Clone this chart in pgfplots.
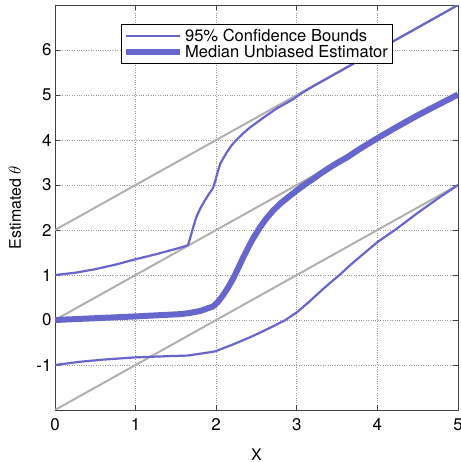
\documentclass[border=0pt]{standalone}
\usepackage{fontspec}
\setmainfont{TeX Gyre Heros}
\usepackage{pgfplots}
\pgfplotsset{compat=1.18}
\definecolor{bl}{RGB}{102,102,204}
\definecolor{gl}{RGB}{176,176,176}
\begin{document}
\begin{tikzpicture}
\begin{axis}[
  scale only axis, width=403bp, height=405bp,
  xmin=0, xmax=5, ymin=-2, ymax=7,
  xtick={0,1,2,3,4,5}, ytick={-1,0,1,2,3,4,5,6},
  /pgf/number format/assume math mode=true,
  grid=major, grid style={dotted, gray!80, line width=1pt},
  axis line style={gray!50!black, line width=0.8pt},
  tick style={gray!50!black, line width=0.8pt}, major tick length=5bp, tick align=inside,
  ticklabel style={font=\fontsize{17}{20}\selectfont},
  xticklabel style={yshift=-5bp},
  label style={font=\fontsize{16}{19}\selectfont},
  xlabel={X}, ylabel={Estimated $\theta$},
  xlabel style={at={(axis description cs:0.5,0)}, anchor=base, yshift=-50bp},
  ylabel style={at={([xshift=-40bp]axis description cs:0,0.5)}, anchor=center},
  legend style={at={(0.5,0.952)}, anchor=north, draw=black, line width=0.6pt, fill=white,
    font=\fontsize{16.6}{20}\selectfont, cells={anchor=west}, row sep=-1pt, inner sep=2pt},
  legend image code/.code={\draw[#1] (0bp,0bp) -- (54bp,0bp);},
]
\addplot[gl, line width=2bp, forget plot] coordinates {(0,2) (5,7)};
\addplot[gl, line width=2bp, forget plot] coordinates {(0,0) (5,5)};
\addplot[gl, line width=2bp, forget plot] coordinates {(0,-2) (5,3)};
\addplot[bl, line width=2.2bp, line join=round] coordinates {
(0,1) (0.25,1.05) (0.5,1.13) (0.75,1.23) (1,1.35) (1.25,1.46) (1.5,1.58) (1.65,1.66)
(1.68,1.84) (1.71,2.03) (1.75,2.27) (1.8,2.47) (1.857,2.65) (1.91,2.8) (1.96,2.93)
(1.99,3.1) (2.02,3.3) (2.05,3.47) (2.09,3.6) (2.13,3.72) (2.19,3.88) (2.25,4.0) (2.33,4.14)
(2.42,4.28) (2.52,4.41) (2.62,4.54) (2.75,4.7) (2.85,4.8) (2.95,4.9) (3.05,5.03)
(3.2,5.19) (5,7)};
\addlegendentry{95\% Confidence Bounds}
\addplot[bl, line width=6bp, line join=round] coordinates {
(0,0) (0.5,0.04) (1,0.08) (1.55,0.13) (1.65,0.15) (1.8,0.2) (1.96,0.30) (2.02,0.4)
(2.085,0.55) (2.15,0.73) (2.21,0.92) (2.27,1.14) (2.33,1.37) (2.4,1.62) (2.457,1.81)
(2.54,2.05) (2.62,2.25) (2.7,2.42) (2.79,2.58) (2.9,2.74) (3.0,2.88) (3.1,3.01)
(3.2,3.13) (3.3,3.26) (3.41,3.39) (3.52,3.51) (3.62,3.61) (3.78,3.80) (4,4.04)
(4.25,4.3) (4.5,4.55) (4.75,4.78) (5,5.01)};
\addlegendentry{Median Unbiased Estimator}
\addplot[bl, line width=2.2bp, line join=round, forget plot] coordinates {
(0,-1) (0.3,-0.93) (0.6,-0.88) (1,-0.83) (1.3,-0.81) (1.65,-0.79) (1.98,-0.7) (2.2,-0.55)
(2.45,-0.36) (2.66,-0.18) (2.85,-0.01) (3.0,0.17) (3.15,0.4) (3.29,0.63) (3.41,0.82)
(3.53,1.0) (3.65,1.2) (3.78,1.4) (3.9,1.58) (4,1.73) (4.12,1.88) (4.24,2.03) (4.5,2.38)
(4.75,2.7) (5,3.0)};
\end{axis}
\pgfresetboundingbox
\useasboundingbox (-55bp,-52bp) rectangle (406bp,410bp);
\end{tikzpicture}
\end{document}
